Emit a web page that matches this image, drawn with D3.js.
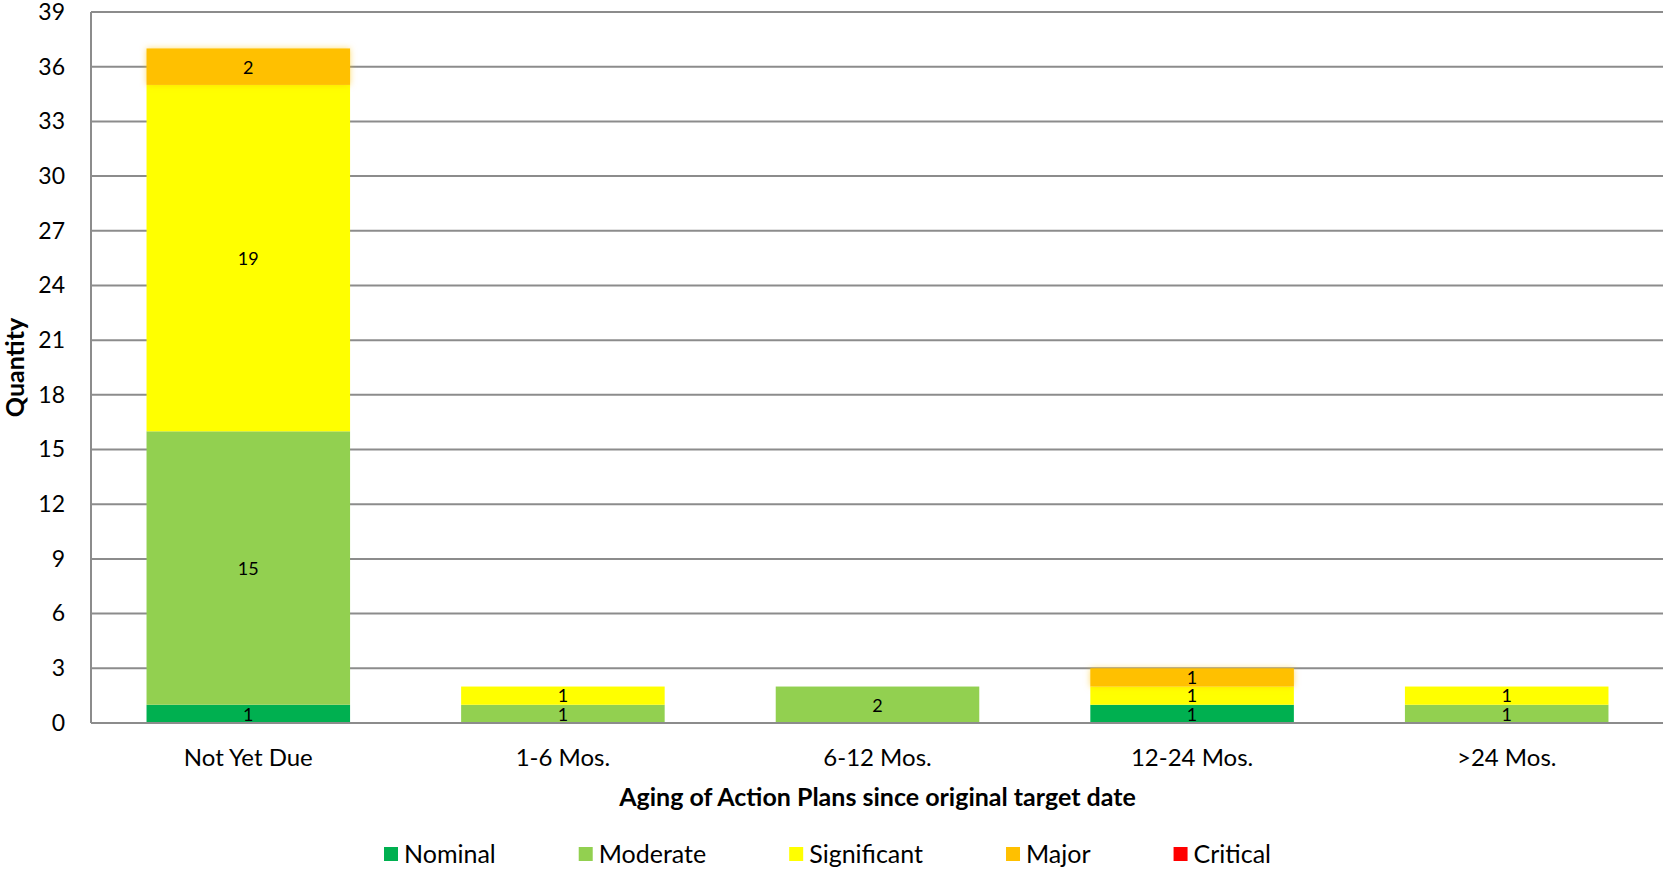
<!DOCTYPE html>
<html>
<head>
<meta charset="utf-8">
<script src="https://cdn.jsdelivr.net/npm/d3@7/dist/d3.min.js"></script>
<style>
  html, body { margin: 0; padding: 0; background: #fff; }
  svg { display: block; font-family: Lato, "Open Sans", sans-serif; }
</style>
</head>
<body>
<svg id="chart" width="1663" height="871"></svg>
<script>
const categories = ["Not Yet Due", "1-6 Mos.", "6-12 Mos.", "12-24 Mos.", ">24 Mos."];
const seriesNames = ["Nominal", "Moderate", "Significant", "Major", "Critical"];
const nominal     = [1, 0, 0, 1, 0];
const moderate    = [15, 1, 2, 0, 1];
const significant = [19, 1, 0, 1, 1];
const major       = [2, 0, 0, 1, 0];
const critical    = [0, 0, 0, 0, 0];
const seriesColors = ["#00B050", "#92D050", "#FFFF00", "#FFC000", "#FF0000"];
const yTicks = [0, 3, 6, 9, 12, 15, 18, 21, 24, 27, 30, 33, 36, 39];
const xTitle = "Aging of Action Plans since original target date";
const yTitle = "Quantity";

(function () {
const seriesValues = [nominal, moderate, significant, major, critical];
const table = categories.map((c, i) => {
  const row = { category: c };
  seriesNames.forEach((s, j) => row[s] = seriesValues[j][i]);
  return row;
});

const svg = d3.select("#chart");
const pL = 91, pR = 1664, pT = 12, pB = 723;

const x = d3.scaleBand().domain(categories).range([pL, pR]).paddingInner(0.353).paddingOuter(0.1765);
const y = d3.scaleLinear().domain([0, 39]).range([pB, pT]);

// glow filter for Major
const defs = svg.append("defs");
const f = defs.append("filter").attr("id", "glow").attr("x", "-10%").attr("y", "-60%").attr("width", "120%").attr("height", "220%");
f.append("feGaussianBlur").attr("in", "SourceAlpha").attr("stdDeviation", 3).attr("result", "blur");
f.append("feFlood").attr("flood-color", "#FFC000").attr("flood-opacity", 0.55).attr("result", "col");
f.append("feComposite").attr("in", "col").attr("in2", "blur").attr("operator", "in").attr("result", "glowc");
const fm = f.append("feMerge");
fm.append("feMergeNode").attr("in", "glowc");
fm.append("feMergeNode").attr("in", "SourceGraphic");

// gridlines
svg.append("g").selectAll("line").data(yTicks).join("line")
  .attr("x1", pL).attr("x2", pR)
  .attr("y1", d => y(d)).attr("y2", d => y(d))
  .attr("stroke", "#8c8c8c").attr("stroke-width", 2);

// y axis labels
const yAxis = d3.axisLeft(y).tickValues(yTicks).tickSize(0).tickPadding(0);
const yg = svg.append("g").attr("transform", `translate(${pL - 26},0)`).call(yAxis);
yg.select(".domain").remove();
yg.selectAll("text").attr("font-size", 23).attr("fill", "#000").attr("font-family", "Lato, sans-serif");

// stacked bars
const stacked = d3.stack().keys(seriesNames)(table);
const layers = svg.append("g").selectAll("g").data(stacked).join("g")
  .attr("fill", (d, i) => seriesColors[i])
  .attr("filter", d => d.key === "Major" ? "url(#glow)" : null);
layers.selectAll("rect").data(d => d.filter(p => p[1] - p[0] > 0)).join("rect")
  .attr("x", d => x(d.data.category))
  .attr("width", x.bandwidth())
  .attr("y", d => y(d[1]))
  .attr("height", d => y(d[0]) - y(d[1]));

// data labels
const lab = svg.append("g");
stacked.forEach(layer => {
  layer.filter(p => p[1] - p[0] > 0).forEach(p => {
    lab.append("text")
      .attr("x", x(p.data.category) + x.bandwidth() / 2)
      .attr("y", (y(p[0]) + y(p[1])) / 2)
      .attr("dy", "0.38em")
      .attr("text-anchor", "middle")
      .attr("font-size", 18)
      .attr("fill", "#000")
      .text(p[1] - p[0]);
  });
});

// axes lines
svg.append("line").attr("x1", pL).attr("x2", pL).attr("y1", pT).attr("y2", pB)
  .attr("stroke", "#8c8c8c").attr("stroke-width", 2);
svg.append("line").attr("x1", pL).attr("x2", pR).attr("y1", pB).attr("y2", pB)
  .attr("stroke", "#8c8c8c").attr("stroke-width", 2);

// x axis labels
const xAxis = d3.axisBottom(x).tickSize(0).tickPadding(0);
const xg = svg.append("g").attr("transform", `translate(0,757)`).call(xAxis);
xg.select(".domain").remove();
xg.selectAll("text").attr("font-size", 24).attr("fill", "#000").attr("dy", "0.36em").attr("font-family", "Lato, sans-serif");

// axis titles
svg.append("text").attr("x", (pL + pR) / 2).attr("y", 797).attr("dy", "0.36em")
  .attr("text-anchor", "middle").attr("font-size", 25).attr("font-weight", "bold").text(xTitle);
svg.append("text").attr("transform", `translate(15,${(pT + pB) / 2}) rotate(-90)`)
  .attr("dy", "0.36em").attr("text-anchor", "middle").attr("font-size", 25).attr("font-weight", "bold").text(yTitle);

// legend
const leg = svg.append("g");
let lx = 384;
const ly = 854;
seriesNames.forEach((s, i) => {
  leg.append("rect").attr("x", lx).attr("y", ly - 7).attr("width", 14).attr("height", 14).attr("fill", seriesColors[i]);
  const t = leg.append("text").attr("x", lx + 20).attr("y", ly).attr("dy", "0.36em")
    .attr("font-size", 25).attr("fill", "#000").text(s);
  const w = t.node().getComputedTextLength();
  lx = lx + 20 + w + 83;
});
})();
</script>
</body>
</html>
